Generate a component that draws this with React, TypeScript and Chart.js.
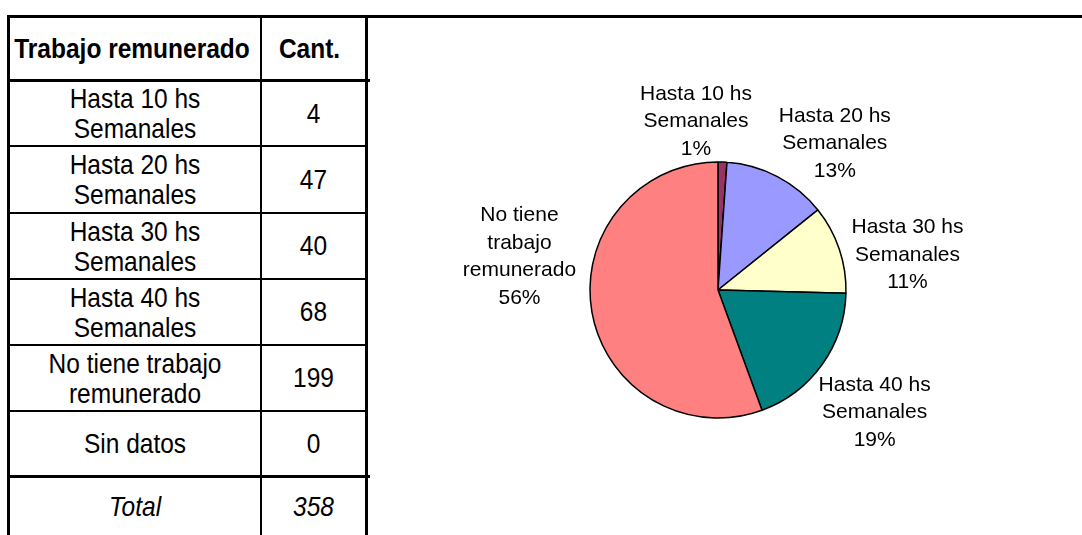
import React, { useEffect, useRef } from "react";
import { Chart, registerables } from "chart.js";

Chart.register(...registerables);

// ---- data ----
const categories = [
  "Hasta 10 hs Semanales",
  "Hasta 20 hs Semanales",
  "Hasta 30 hs Semanales",
  "Hasta 40 hs Semanales",
  "No tiene trabajo remunerado",
  "Sin datos",
];
const counts = [4, 47, 40, 68, 199, 0];
const headerLabels = ["Trabajo remunerado", "Cant."];
const totalLabel = "Total";
const sliceColors = ["#993366", "#9999FF", "#FFFFCC", "#008080", "#FF8080", "#CCFFFF"];

const FONT = '"Liberation Sans", Arial, Helvetica, sans-serif';

function wrapText(ctx: CanvasRenderingContext2D, text: string, maxWidth: number): string[] {
  const words = text.split(" ");
  const lines: string[] = [];
  let cur = "";
  for (const w of words) {
    const test = cur ? cur + " " + w : w;
    if (cur && ctx.measureText(test).width > maxWidth) {
      lines.push(cur);
      cur = w;
    } else cur = test;
  }
  if (cur) lines.push(cur);
  return lines;
}

const pieLabelPlugin = {
  id: "pieLabels",
  afterDatasetsDraw(chart: any, _args: any, opts: any) {
    const ctx: CanvasRenderingContext2D = chart.ctx;
    const meta = chart.getDatasetMeta(0);
    const data = chart.data.datasets[0].data as number[];
    const total = data.reduce((a, b) => a + b, 0);
    ctx.save();
    ctx.font = opts.font;
    ctx.fillStyle = "#000";
    ctx.textAlign = "center";
    ctx.textBaseline = "middle";
    meta.data.forEach((el: any, i: number) => {
      const v = data[i];
      if (!v) return;
      const { x, y, startAngle, endAngle, outerRadius } = el.getProps(
        ["x", "y", "startAngle", "endAngle", "outerRadius"],
        true
      );
      const mid = (startAngle + endAngle) / 2;
      const ax = x + Math.cos(mid) * outerRadius;
      const ay = y + Math.sin(mid) * outerRadius;
      const off = opts.offsets[i] || [0, 0];
      const lines = wrapText(ctx, String(chart.data.labels[i]), opts.maxWidth);
      lines.push(`${Math.round((v / total) * 100)}%`);
      const cx = ax + off[0];
      const cy = ay + off[1];
      lines.forEach((ln, j) => {
        ctx.fillText(ln, cx, cy + (j - (lines.length - 1) / 2) * opts.lineHeight);
      });
    });
    ctx.restore();
  },
};

function PieChart() {
  const ref = useRef<HTMLCanvasElement | null>(null);
  useEffect(() => {
    if (!ref.current) return;
    const chart = new Chart(ref.current, {
      type: "pie",
      data: {
        labels: categories,
        datasets: [
          {
            data: counts,
            backgroundColor: sliceColors,
            borderColor: "#000000",
            borderWidth: 1.5,
          },
        ],
      },
      options: {
        animation: false,
        responsive: false,
        radius: 128,
        layout: { padding: { left: 0, right: 14, top: 27, bottom: 0 } },
        plugins: {
          legend: { display: false },
          tooltip: { enabled: false },
          pieLabels: {
            font: `21px ${FONT}`,
            lineHeight: 27.5,
            maxWidth: 125,
            offsets: [
              [-26.5, -40.6],
              [57.4, -33.2],
              [68.2, 6],
              [52.7, 48],
              [-72.5, -55.4],
              [0, 0],
            ],
          },
        } as any,
      },
      plugins: [pieLabelPlugin as any],
    });
    return () => chart.destroy();
  }, []);
  return (
    <canvas
      ref={ref}
      width={714}
      height={517}
      style={{ position: "absolute", left: 368, top: 18, width: 714, height: 517 }}
    />
  );
}

// table layout (pixel geometry)
const rowLines = [79, 145, 212, 278, 344, 410, 475]; // top of each separator line
const rowLineW = [3, 2, 2, 2, 2, 2, 3];

function Line({ x, y, w, h }: { x: number; y: number; w: number; h: number }) {
  return <div style={{ position: "absolute", left: x, top: y, width: w, height: h, background: "#000" }} />;
}

function Cell({
  x0, x1, y0, y1, text, bold, italic, dx = 0,
}: { x0: number; x1: number; y0: number; y1: number; text: string; bold?: boolean; italic?: boolean; dx?: number }) {
  return (
    <div
      style={{
        position: "absolute",
        left: x0 + dx,
        top: y0,
        width: x1 - x0,
        height: y1 - y0,
        display: "flex",
        alignItems: "center",
        justifyContent: "center",
        textAlign: "center",
      }}
    >
      <span
        style={{
          display: "inline-block",
          maxWidth: x1 - x0 - 8,
          fontFamily: FONT,
          fontSize: 24.5,
          lineHeight: "25.5px",
          fontWeight: bold ? "bold" : "normal",
          fontStyle: italic ? "italic" : "normal",
          transform: "scaleY(1.14)",
          color: "#000",
          whiteSpace: "normal",
        }}
      >
        {text}
      </span>
    </div>
  );
}

export default function App() {
  const total = counts.reduce((a, b) => a + b, 0);
  const rowBounds: [number, number][] = [];
  let top = 18;
  rowLines.forEach((ly, i) => {
    rowBounds.push([top, ly]);
    top = ly + rowLineW[i];
  });
  rowBounds.push([top, 535]);
  const c1 = [10, 260];
  const c2 = [262, 365];
  return (
    <div style={{ position: "absolute", left: 0, top: 0, width: 1082, height: 535, overflow: "hidden", background: "#fff" }}>
      {/* frame lines */}
      <Line x={7} y={15} w={1075} h={3} />
      <Line x={7} y={15} w={3} h={520} />
      <Line x={365} y={15} w={3} h={520} />
      <Line x={260} y={18} w={2} h={517} />
      {rowLines.map((ly, i) =>
        rowLineW[i] === 3 ? (
          <Line key={i} x={7} y={ly} w={363} h={3} />
        ) : (
          <Line key={i} x={10} y={ly} w={355} h={2} />
        )
      )}
      {/* header */}
      <Cell x0={c1[0]} x1={c1[1]} y0={rowBounds[0][0]} y1={rowBounds[0][1]} text={headerLabels[0]} bold dx={-3} />
      <Cell x0={c2[0]} x1={c2[1]} y0={rowBounds[0][0]} y1={rowBounds[0][1]} text={headerLabels[1]} bold dx={-4} />
      {categories.map((c, i) => (
        <React.Fragment key={c}>
          <Cell x0={c1[0]} x1={c1[1]} y0={rowBounds[i + 1][0]} y1={rowBounds[i + 1][1]} text={c} />
          <Cell x0={c2[0]} x1={c2[1]} y0={rowBounds[i + 1][0]} y1={rowBounds[i + 1][1]} text={String(counts[i])} />
        </React.Fragment>
      ))}
      <Cell x0={c1[0]} x1={c1[1]} y0={rowBounds[7][0]} y1={rowBounds[7][1]} text={totalLabel} italic />
      <Cell x0={c2[0]} x1={c2[1]} y0={rowBounds[7][0]} y1={rowBounds[7][1]} text={String(total)} italic />
      <PieChart />
    </div>
  );
}
